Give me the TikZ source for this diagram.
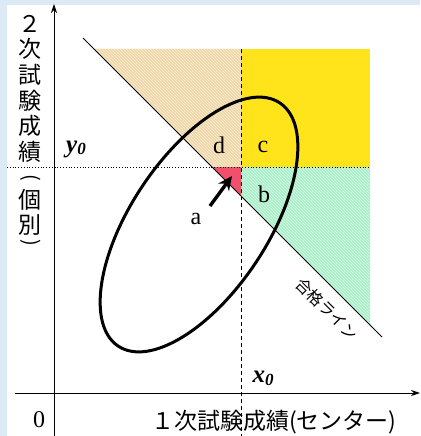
\documentclass[tikz,border=0pt]{standalone}
\usepackage{fontspec}
\setmainfont{Liberation Serif}
\newfontfamily\jp{Noto Sans CJK JP}
\usetikzlibrary{patterns,arrows.meta}
\definecolor{bgblue}{HTML}{DCEAF5}
\definecolor{tanfill}{HTML}{EFD7A6}
\definecolor{yelfill}{HTML}{FFE41C}
\definecolor{grnfill}{HTML}{A8F0C8}
\definecolor{redfill}{HTML}{F0506C}
\tikzset{
  axis/.style={line width=0.9pt,-{Stealth[length=9pt,width=6pt]}},
  tanstripes/.style={pattern=north west lines, pattern color=tanfill!45!white},
  grnstripes/.style={pattern=north west lines, pattern color=grnfill!45!white},
  pline/.style={line width=0.9pt},
  guide/.style={line width=0.8pt},
  lab/.style={font=\fontsize{24}{24}\selectfont, inner sep=0pt},
  varlab/.style={font=\fontsize{25}{25}\selectfont\bfseries\itshape, inner sep=0pt},
  jplab/.style={font=\jp\fontsize{23}{23}\selectfont, inner sep=0pt},
  vcol/.style={font=\jp\fontsize{23}{25.6}\selectfont, inner sep=0pt, align=center},
  vpar/.style={font=\jp\fontsize{20}{20}\selectfont, inner sep=0pt, rotate=-90},
  curve/.style={line width=3pt},
  pointer/.style={line width=3.4pt,-{Stealth[length=14pt,width=13pt]}}
}
\begin{document}
\begin{tikzpicture}[x=1pt,y=-1pt]
\useasboundingbox (0,0) rectangle (420,436);
\fill[bgblue] (0,0) rectangle (420,436);
\fill[white] (7,5) rectangle (420,436);

% regions
\fill[tanfill] (94,49) -- (241,49) -- (241,167) -- (212,167) -- cycle;
\fill[tanstripes] (94,49) -- (241,49) -- (241,167) -- (212,167) -- cycle;
\fill[yelfill] (241,49) rectangle (370,167);
\fill[grnfill] (241,167) -- (370,167) -- (370,325) -- (241,196) -- cycle;
\fill[grnstripes] (241,167) -- (370,167) -- (370,325) -- (241,196) -- cycle;
\fill[redfill] (212,167) -- (241,167) -- (241,196) -- cycle;
\coordinate (redtip) at (232,176);

% guide lines
\draw[guide, dotted] (7,167) -- (370,167);
\draw[guide, dash pattern=on 4pt off 3pt] (241,49) -- (241,436);

% axes
\coordinate (xs) at (15,393);
\coordinate (xe) at (420,393);
\coordinate (ys) at (54,436);
\coordinate (ye) at (54,4);
\draw[axis] (xs) -- (xe);
\draw[axis] (ys) -- (ye);

% pass line
\coordinate (p1) at (83,38);
\coordinate (p2) at (382,337);
\draw[pline] (p1) -- (p2);
\node[font=\jp\fontsize{16}{16}\selectfont, rotate=-45, inner sep=0pt] (pass) at (327,309) {合格ライン};

% ellipse
\draw[curve, rotate around={56.4:(199,224.5)}] (199,224.5) ellipse [x radius=146, y radius=68.4];

% labels
\node[lab] (la) at (196,219) {a};
\node[lab] (lb) at (264,194) {b};
\node[lab] (lc) at (263,147) {c};
\node[lab] (ld) at (219,145) {d};
\draw[pointer] (210,206) -- (redtip);

\node[varlab] (y0) at (76,149) {y\raisebox{-0.25ex}{\fontsize{17}{17}\selectfont 0}};
\node[varlab] (x0) at (263,378) {x\raisebox{-0.25ex}{\fontsize{17}{17}\selectfont 0}};
\node[lab] (zero) at (39,420) {0};

\node[jplab, anchor=west] (xlab) at (151,422) {１次試験成績(センター)};
\node[vcol, anchor=north] (ylab1) at (30,15) {２\\次\\試\\験\\成\\績};
\node[vpar] (ylabL) at (31,178) {(};
\node[vcol] (ylab2) at (30,212.5) {個\\別};
\node[vpar] (ylabR) at (31,243) {)};
\end{tikzpicture}
\end{document}
